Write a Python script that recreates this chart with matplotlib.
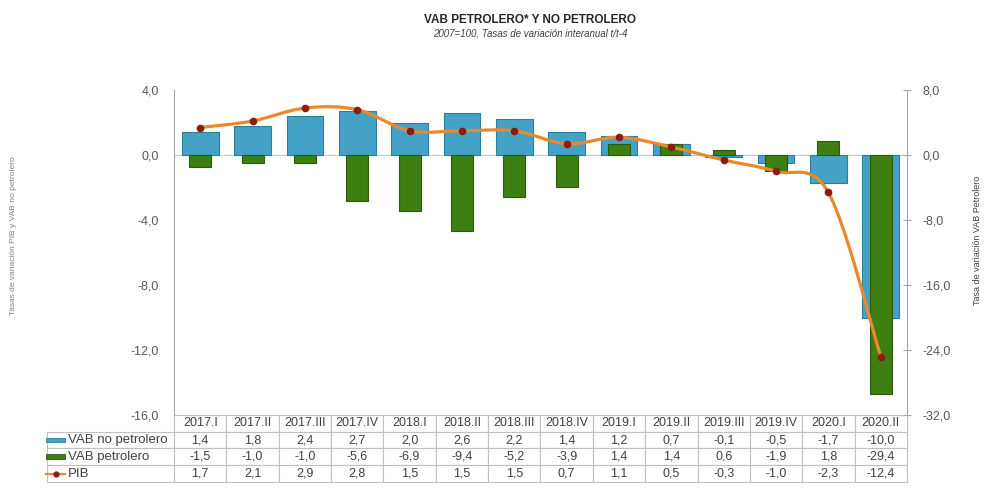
import numpy as np
import matplotlib.pyplot as plt
from matplotlib.path import Path
from matplotlib.patches import PathPatch, Rectangle
from matplotlib.lines import Line2D

plt.rcParams['font.family'] = ['Liberation Sans', 'DejaVu Sans']

# datos trimestrales, tasas de variación interanual
periodos = ['2017.I', '2017.II', '2017.III', '2017.IV', '2018.I', '2018.II', '2018.III',
            '2018.IV', '2019.I', '2019.II', '2019.III', '2019.IV', '2020.I', '2020.II']
vab_no_petrolero = [1.4, 1.8, 2.4, 2.7, 2.0, 2.6, 2.2, 1.4, 1.2, 0.7, -0.1, -0.5, -1.7, -10.0]
vab_petrolero = [-1.5, -1.0, -1.0, -5.6, -6.9, -9.4, -5.2, -3.9, 1.4, 1.4, 0.6, -1.9, 1.8, -29.4]
pib = [1.7, 2.1, 2.9, 2.8, 1.5, 1.5, 1.5, 0.7, 1.1, 0.5, -0.3, -1.0, -2.3, -12.4]
filas = ['VAB no petrolero', 'VAB petrolero', 'PIB']

azul = '#44a2c6'
verde = '#3e7f12'
naranja = '#e8892c'
rojo = '#8b1c14'
gris = '#595959'


def fmt(v):
    return f'{v:.1f}'.replace('.', ',')


fig = plt.figure(figsize=(9.89, 4.9), dpi=100)
ax = fig.add_axes([0.176, 0.153, 0.741, 0.663])
ax2 = ax.twinx()

x = np.arange(len(periodos))

ax.axhline(0, color='#c8c8c8', lw=0.8, zorder=1)
ax.bar(x, vab_no_petrolero, width=0.7, color=azul, edgecolor='#2e7f9e', lw=0.8, zorder=2)
ax2.bar(x, vab_petrolero, width=0.42, color=verde, edgecolor='#2a5a0a', lw=0.8, zorder=2)

# línea suavizada del PIB (escala izquierda)
pts = np.column_stack([x, pib]).astype(float)
n = len(pts)
verts = [pts[0]]
codes = [Path.MOVETO]
for i in range(n - 1):
    p0 = pts[max(i - 1, 0)]
    p1 = pts[i]
    p2 = pts[i + 1]
    p3 = pts[min(i + 2, n - 1)]
    verts += [p1 + (p2 - p0) / 6, p2 - (p3 - p1) / 6, p2]
    codes += [Path.CURVE4] * 3
curva = PathPatch(Path(verts, codes), facecolor='none', edgecolor=naranja, lw=2.3,
                  transform=ax.transData, zorder=3)
ax2.add_patch(curva)
ax2.plot(x, pib, 'o', ms=4.5, color=rojo, transform=ax.transData, zorder=4)

ax.set_xlim(-0.5, len(periodos) - 0.5)
ax.set_ylim(-16, 4)
ax2.set_ylim(-32, 8)
ax.set_yticks(np.arange(-16, 4.1, 4))
ax2.set_yticks(np.arange(-32, 8.1, 8))
ax.set_yticklabels([fmt(v) for v in np.arange(-16, 4.1, 4)])
ax2.set_yticklabels([fmt(v) for v in np.arange(-32, 8.1, 8)])
ax.set_xticks([])

for a in (ax, ax2):
    for s in a.spines.values():
        s.set_visible(False)
    a.tick_params(axis='y', labelsize=9, colors='#a6a6a6', labelcolor=gris,
                  direction='inout', length=6, width=0.8)
ax.spines['left'].set_visible(True)
ax.spines['left'].set_color('#a6a6a6')
ax2.spines['right'].set_visible(True)
ax2.spines['right'].set_color('#a6a6a6')
ax.tick_params(axis='y', length=0, pad=11)
ax2.tick_params(axis='y', pad=8)

# tabla de datos bajo el gráfico
celdas = [[fmt(v) for v in serie] for serie in (vab_no_petrolero, vab_petrolero, pib)]
tbl = ax.table(cellText=celdas, colLabels=periodos, colWidths=[1 / 14] * 14,
               cellLoc='center', bbox=[0, -0.206, 1, 0.206])
alto = tbl[0, 0].get_height()
for r, nombre in enumerate(filas, start=1):
    tbl.add_cell(r, -1, width=127 / 733, height=alto, text=nombre, loc='left')
tbl.auto_set_font_size(False)
tbl.set_fontsize(9)
for (r, c), cell in tbl.get_celld().items():
    cell.set_edgecolor('#c0c0c0')
    cell.set_linewidth(0.8)
    cell.get_text().set_color('#404040')
    if c == -1:
        cell.PAD = 0.165
        cell.get_text().set_fontsize(9.5)

# símbolos de la leyenda dentro de la tabla
sw_x0, sw_x1 = (46 - 174) / 733, (65 - 174) / 733
filas_y = [-0.077, -0.128, -0.180]
ax.add_patch(Rectangle((sw_x0, filas_y[0] - 0.007), sw_x1 - sw_x0, 0.014,
                       transform=ax.transAxes, clip_on=False,
                       facecolor=azul, edgecolor='#2e7f9e', lw=0.6))
ax.add_patch(Rectangle((sw_x0, filas_y[1] - 0.007), sw_x1 - sw_x0, 0.014,
                       transform=ax.transAxes, clip_on=False,
                       facecolor=verde, edgecolor='#2a5a0a', lw=0.6))
ax.add_line(Line2D([sw_x0, sw_x1], [filas_y[2]] * 2, transform=ax.transAxes,
                   clip_on=False, color=naranja, lw=1.6))
ax.add_line(Line2D([(sw_x0 + sw_x1) / 2], [filas_y[2]], transform=ax.transAxes,
                   clip_on=False, marker='o', ms=3.5, color=rojo))

fig.text(0.536, 0.960, 'VAB PETROLERO* Y NO PETROLERO', ha='center', va='center',
         fontsize=8.5, fontweight='bold', color='#262626')
fig.text(0.536, 0.932, '2007=100, Tasas de variación interanual t/t-4', ha='center',
         va='center', fontsize=7, style='italic', color='#404040')
fig.text(0.014, 0.52, 'Tasas de variación PIB y VAB no petrolero', rotation=90,
         ha='center', va='center', fontsize=6, color='#808080')
fig.text(0.988, 0.51, 'Tasa de variación VAB Petrolero', rotation=90,
         ha='center', va='center', fontsize=6.5, color='#404040')

fig.savefig('out.png', dpi=100)
